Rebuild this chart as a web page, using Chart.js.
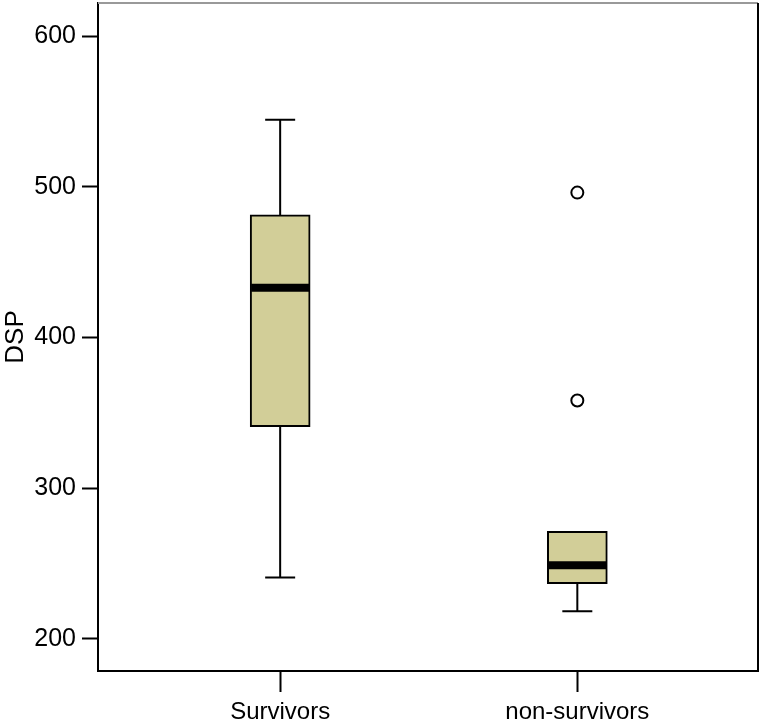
<!DOCTYPE html>
<html>
<head>
<meta charset="utf-8">
<script src="https://cdn.jsdelivr.net/npm/chart.js@4"></script>
<style>
  html, body { margin: 0; padding: 0; background: #fff; }
  #wrap { width: 760px; height: 728px; }
</style>
</head>
<body>
<div id="wrap"><canvas id="chart" width="760" height="728"></canvas></div>
<script>
const groups = ["Survivors", "non-survivors"];
const whiskerLow = [240.7, 218.3];
const q1 = [340.8, 236.7];
const median = [432.9, 248.9];
const q3 = [481.3, 271.4];
const whiskerHigh = [544.5, 271.4];
const outlierGroup = [1, 1];
const outlierValues = [496.1, 358.2];
const yTicks = [200, 300, 400, 500, 600];

const font = "'Liberation Sans', Arial, Helvetica, sans-serif";

// whiskers, caps and medians drawn through the chart scales
const boxExtras = {
  id: "boxExtras",
  afterDatasetsDraw(chart) {
    const ctx = chart.ctx;
    const x = chart.scales.x;
    const y = chart.scales.y;
    ctx.save();
    ctx.strokeStyle = "#000";
    groups.forEach((g, i) => {
      const cx = x.getPixelForValue(i);
      ctx.lineWidth = 2;
      ctx.beginPath();
      if (whiskerHigh[i] > q3[i]) {
        ctx.moveTo(cx, y.getPixelForValue(q3[i]));
        ctx.lineTo(cx, y.getPixelForValue(whiskerHigh[i]));
        ctx.moveTo(cx - 15, y.getPixelForValue(whiskerHigh[i]));
        ctx.lineTo(cx + 15, y.getPixelForValue(whiskerHigh[i]));
      }
      if (whiskerLow[i] < q1[i]) {
        ctx.moveTo(cx, y.getPixelForValue(q1[i]));
        ctx.lineTo(cx, y.getPixelForValue(whiskerLow[i]));
        ctx.moveTo(cx - 15, y.getPixelForValue(whiskerLow[i]));
        ctx.lineTo(cx + 15, y.getPixelForValue(whiskerLow[i]));
      }
      ctx.stroke();
      ctx.lineWidth = 8;
      ctx.beginPath();
      ctx.moveTo(cx - 29, y.getPixelForValue(median[i]));
      ctx.lineTo(cx + 29, y.getPixelForValue(median[i]));
      ctx.stroke();
    });
    ctx.restore();
  },
  afterDraw(chart) {
    const ctx = chart.ctx;
    const a = chart.chartArea;
    ctx.save();
    ctx.lineWidth = 2;
    ctx.strokeStyle = "#999";
    ctx.beginPath();
    ctx.moveTo(a.left, a.top);
    ctx.lineTo(a.right, a.top);
    ctx.stroke();
    ctx.strokeStyle = "#000";
    ctx.beginPath();
    ctx.moveTo(a.right, a.top);
    ctx.lineTo(a.right, a.bottom);
    ctx.lineTo(a.left, a.bottom);
    ctx.stroke();
    ctx.restore();
  },
};

new Chart(document.getElementById("chart"), {
  type: "bar",
  data: {
    datasets: [
      {
        label: "box",
        data: groups.map((g, i) => ({ x: i, y: [q1[i], q3[i]] })),
        backgroundColor: "#d2ce98",
        borderColor: "#000",
        borderWidth: 2,
        borderSkipped: false,
        barThickness: 60,
      },
      {
        type: "scatter",
        label: "outliers",
        data: outlierValues.map((v, i) => ({ x: outlierGroup[i], y: v })),
        pointStyle: "circle",
        pointRadius: 6,
        pointBorderWidth: 2,
        borderColor: "#000",
        backgroundColor: "#fff",
      },
    ],
  },
  options: {
    responsive: false,
    animation: false,
    layout: { autoPadding: false, padding: { top: 3, right: 2, left: 0, bottom: 0 } },
    plugins: {
      legend: { display: false },
      tooltip: { enabled: false },
    },
    scales: {
      x: {
        type: "linear",
        min: -0.613,
        max: 1.608,
        offset: false,
        afterBuildTicks: (s) => {
          s.ticks = groups.map((g, i) => ({ value: i }));
        },
        afterFit: (s) => {
          s.height = 57;
          s.paddingLeft = 0;
          s.paddingRight = 0;
        },
        ticks: {
          callback: (v) => groups[v],
          color: "#000",
          font: { family: font, size: 24 },
          padding: 6,
          maxRotation: 0,
          autoSkip: false,
        },
        grid: {
          offset: false,
          drawOnChartArea: false,
          drawTicks: true,
          tickLength: 21,
          tickColor: "#000",
          tickWidth: 2,
        },
        border: { display: false },
      },
      y: {
        min: 178.7,
        max: 621.9,
        afterBuildTicks: (s) => {
          s.ticks = yTicks.map((v) => ({ value: v }));
        },
        afterFit: (s) => {
          s.width = 98;
          s.paddingTop = 0;
          s.paddingBottom = 0;
        },
        ticks: {
          color: "#000",
          font: { family: font, size: 25 },
          padding: 6,
        },
        grid: {
          drawOnChartArea: false,
          drawTicks: true,
          tickLength: 16,
          tickColor: "#000",
          tickWidth: 2,
        },
        border: { display: true, color: "#000", width: 2 },
        title: {
          display: true,
          text: "DSP",
          color: "#000",
          font: { family: font, size: 26 },
          padding: { top: 0, bottom: 0 },
        },
      },
    },
  },
  plugins: [boxExtras],
});
</script>
</body>
</html>
